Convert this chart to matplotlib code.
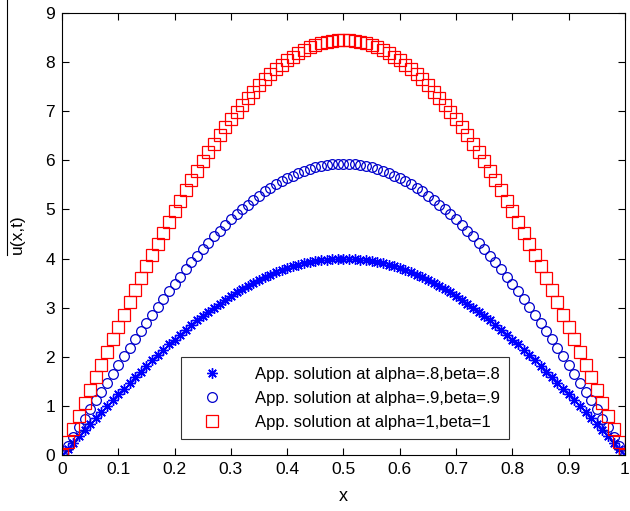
import numpy as np
import matplotlib.pyplot as plt
from matplotlib.lines import Line2D

plt.rcParams['font.family'] = ['Liberation Sans', 'DejaVu Sans']

# grid points in x
x = np.arange(101) / 100

# approximate solutions u(x,t)
u_08 = [0.00, 0.13, 0.25, 0.38, 0.50, 0.63, 0.75, 0.87, 0.99, 1.12,
        1.24, 1.35, 1.47, 1.59, 1.70, 1.82, 1.93, 2.04, 2.14, 2.25,
        2.35, 2.45, 2.55, 2.65, 2.74, 2.83, 2.92, 3.00, 3.08, 3.16,
        3.24, 3.31, 3.38, 3.44, 3.51, 3.56, 3.62, 3.67, 3.72, 3.76,
        3.80, 3.84, 3.87, 3.90, 3.93, 3.95, 3.97, 3.98, 3.99, 4.00,
        4.00,
        4.00, 3.99, 3.98, 3.97, 3.95, 3.93, 3.90, 3.87, 3.84, 3.80,
        3.76, 3.72, 3.67, 3.62, 3.56, 3.51, 3.44, 3.38, 3.31, 3.24,
        3.16, 3.08, 3.00, 2.92, 2.83, 2.74, 2.65, 2.55, 2.45, 2.35,
        2.25, 2.14, 2.04, 1.93, 1.82, 1.70, 1.59, 1.47, 1.35, 1.24,
        1.12, 0.99, 0.87, 0.75, 0.63, 0.50, 0.38, 0.25, 0.13, 0.00]

u_09 = [0.00, 0.19, 0.37, 0.56, 0.74, 0.93, 1.11, 1.29, 1.47, 1.65,
        1.83, 2.01, 2.18, 2.36, 2.52, 2.69, 2.86, 3.02, 3.18, 3.33,
        3.49, 3.63, 3.78, 3.92, 4.06, 4.19, 4.32, 4.45, 4.57, 4.69,
        4.80, 4.90, 5.01, 5.10, 5.20, 5.28, 5.37, 5.44, 5.51, 5.58,
        5.64, 5.69, 5.74, 5.79, 5.82, 5.86, 5.88, 5.90, 5.92, 5.93,
        5.93,
        5.93, 5.92, 5.90, 5.88, 5.86, 5.82, 5.79, 5.74, 5.69, 5.64,
        5.58, 5.51, 5.44, 5.37, 5.28, 5.20, 5.10, 5.01, 4.90, 4.80,
        4.69, 4.57, 4.45, 4.32, 4.19, 4.06, 3.92, 3.78, 3.63, 3.49,
        3.33, 3.18, 3.02, 2.86, 2.69, 2.52, 2.36, 2.18, 2.01, 1.83,
        1.65, 1.47, 1.29, 1.11, 0.93, 0.74, 0.56, 0.37, 0.19, 0.00]

u_10 = [0.00, 0.27, 0.53, 0.80, 1.06, 1.32, 1.58, 1.84, 2.10, 2.36,
        2.61, 2.86, 3.11, 3.36, 3.60, 3.84, 4.07, 4.30, 4.53, 4.75,
        4.97, 5.18, 5.39, 5.59, 5.78, 5.98, 6.16, 6.34, 6.51, 6.68,
        6.84, 6.99, 7.13, 7.27, 7.40, 7.53, 7.65, 7.76, 7.86, 7.95,
        8.04, 8.11, 8.18, 8.25, 8.30, 8.35, 8.38, 8.41, 8.43, 8.45,
        8.45,
        8.45, 8.43, 8.41, 8.38, 8.35, 8.30, 8.25, 8.18, 8.11, 8.04,
        7.95, 7.86, 7.76, 7.65, 7.53, 7.40, 7.27, 7.13, 6.99, 6.84,
        6.68, 6.51, 6.34, 6.16, 5.98, 5.78, 5.59, 5.39, 5.18, 4.97,
        4.75, 4.53, 4.30, 4.07, 3.84, 3.60, 3.36, 3.11, 2.86, 2.61,
        2.36, 2.10, 1.84, 1.58, 1.32, 1.06, 0.80, 0.53, 0.27, 0.00]

labels = ['App. solution at alpha=.8,beta=.8',
          'App. solution at alpha=.9,beta=.9',
          'App. solution at alpha=1,beta=1']

fig = plt.figure(figsize=(6.3, 5.11), dpi=100)
ax = fig.add_axes([0.0984, 0.1096, 0.8936, 0.865])

ax.plot(x, u_08, linestyle='none', marker=(8, 2, 0), markersize=7.5,
        markeredgewidth=1.0, color='#0000ff', label=labels[0])
ax.plot(x, u_09, linestyle='none', marker='o', markersize=7,
        markerfacecolor='none', markeredgewidth=0.9, color='#0000cc',
        label=labels[1])
ax.plot(x, u_10, linestyle='none', marker='s', markersize=8,
        markerfacecolor='none', markeredgewidth=0.9, color='#ff0000',
        label=labels[2])

ax.set_xlim(0, 1)
ax.set_ylim(0, 9)
ax.set_xticks(np.arange(0, 1.01, 0.1))
ax.set_xticklabels(['0', '0.1', '0.2', '0.3', '0.4', '0.5', '0.6',
                    '0.7', '0.8', '0.9', '1'])
ax.set_yticks(range(10))
ax.tick_params(direction='in', top=True, right=True, length=5,
               labelsize=12.5, width=0.8, pad=5)
for s in ax.spines.values():
    s.set_linewidth(0.8)

ax.set_xlabel('x', fontsize=13, labelpad=8)
ax.set_ylabel('u(x,t)', fontsize=12.5, labelpad=15)

leg = ax.legend(loc='lower left', bbox_to_anchor=(0.211, 0.036),
                borderaxespad=0, fontsize=12, frameon=True, fancybox=False,
                edgecolor='black', borderpad=0.55, handlelength=2.6,
                handletextpad=1.3, labelspacing=0.55)
leg.get_frame().set_linewidth(0.8)

# thin vertical rule at the left margin
fig.add_artist(Line2D([7 / 630, 7 / 630], [1, 1 - 255 / 511],
                      color='black', linewidth=0.8))

fig.savefig('out.png', dpi=100)
